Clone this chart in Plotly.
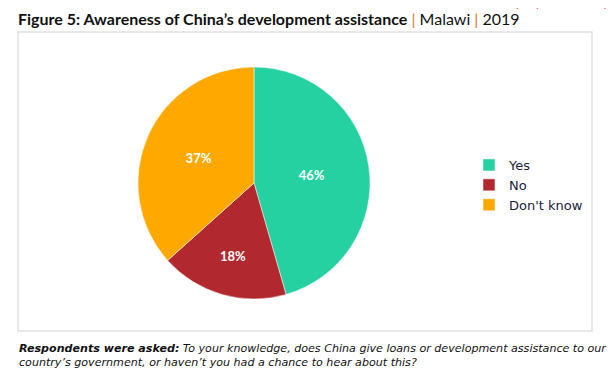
import plotly.graph_objects as go

categories = ["Yes", "No", "Don't know"]
values = [46, 18, 37]
colors = ["#25D1A1", "#B2282F", "#FFA900"]

W, H = 615, 378
OFF = 8  # browser default body margin shifts the figure

def px(x):
    return (x - OFF) / W

def py(y):
    return 1 - (y - OFF) / H

fig = go.Figure()
fig.add_trace(go.Pie(
    labels=categories,
    values=values,
    sort=False,
    direction="clockwise",
    rotation=0,
    marker=dict(colors=colors, line=dict(color="white", width=0.5)),
    texttemplate="<b>%{value}%</b>",
    textposition="inside",
    insidetextorientation="horizontal",
    textfont=dict(color="white", size=13, family="Lato"),
    hoverinfo="label+percent",
    domain=dict(x=[px(138), px(370)], y=[py(299), py(67)]),
))

fig.update_layout(
    width=W, height=H,
    margin=dict(l=0, r=0, t=0, b=0, autoexpand=False),
    paper_bgcolor="white",
    plot_bgcolor="white",
    showlegend=True,
    legend=dict(
        x=px(469), y=py(150), xanchor="left", yanchor="top",
        font=dict(size=13, family="DejaVu Sans", color="#1c1c3c"),
        itemwidth=30,
        bgcolor="rgba(0,0,0,0)",
    ),
    shapes=[dict(
        type="rect", xref="paper", yref="paper",
        x0=px(18), x1=px(592), y0=py(331), y1=py(32),
        line=dict(color="#E2E2E2", width=1.5), fillcolor="rgba(0,0,0,0)", layer="below",
    )],
    annotations=[
        dict(
            x=px(16), y=py(18), xref="paper", yref="paper", xanchor="left", yanchor="middle",
            showarrow=False,
            text="<b>Figure 5: Awareness of China\u2019s development assistance</b> "
                 "<span style='color:#E8741E'>|</span> Malawi "
                 "<span style='color:#E8741E'>|</span> 2019",
            font=dict(size=16, family="Lato", color="#111111"),
        ),
        dict(
            x=px(17), y=py(355), xref="paper", yref="paper", xanchor="left", yanchor="middle",
            showarrow=False, align="left",
            text="<b><i>Respondents were asked:</i></b><i> To your knowledge, does China give loans or development assistance to our<br>"
                 "country\u2019s government, or haven\u2019t you had a chance to hear about this?</i>",
            font=dict(size=11.1, family="DejaVu Sans", color="#111111"),
        ),
        dict(
            x=px(612), y=py(12.5), xref="paper", yref="paper", xanchor="right", yanchor="bottom",
            showarrow=False,
            text="se the people have a say",
            font=dict(size=12, family="Lato", color="#F0612A"),
        ),
    ],
)

fig.write_html("out.html")
